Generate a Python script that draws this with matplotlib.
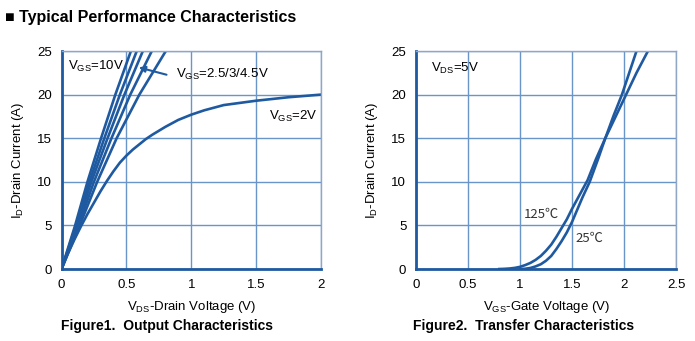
import numpy as np
import matplotlib
matplotlib.use("Agg")
import matplotlib.pyplot as plt

plt.rcParams['font.family'] = ['Liberation Sans', 'DejaVu Sans', 'Noto Sans CJK SC']
plt.rcParams['mathtext.fontset'] = 'custom'
plt.rcParams['mathtext.rm'] = 'Liberation Sans'

# Figure 1: output characteristics, V_DS (V) for given I_D (A)
id_steps = [0, 5, 10, 15, 20, 25]
vds_10v = [0, 0.105, 0.200, 0.305, 0.415, 0.535]
vds_45v = [0, 0.112, 0.215, 0.330, 0.450, 0.580]
vds_3v = [0, 0.120, 0.230, 0.355, 0.485, 0.627]
vds_25v_a = [0, 0.130, 0.250, 0.385, 0.530, 0.696]
vds_25v_b = [0, 0.140, 0.275, 0.425, 0.600, 0.804]

vds_2v = [0, 0.05, 0.1, 0.15, 0.2, 0.25, 0.3, 0.35, 0.4, 0.45, 0.5, 0.55, 0.6, 0.65, 0.7,
          0.8, 0.9, 1.0, 1.1, 1.25, 1.5, 1.75, 2.0]
id_2v = [0, 1.8, 3.4, 4.9, 6.3, 7.6, 8.9, 10.1, 11.2, 12.2, 13.0, 13.7, 14.3, 14.9, 15.4,
         16.3, 17.1, 17.7, 18.2, 18.8, 19.3, 19.7, 20.0]

# Figure 2: transfer characteristics
vgs_25c = [1.0, 1.05, 1.1, 1.15, 1.2, 1.25, 1.3, 1.35, 1.4, 1.45, 1.5, 1.55, 1.6, 1.67,
           1.75, 1.82, 1.9, 1.98, 2.05, 2.12]
id_25c = [0, 0.03, 0.12, 0.3, 0.55, 0.95, 1.5, 2.3, 3.2, 4.2, 5.4, 6.8, 8.2, 10.0,
          12.6, 15.0, 17.6, 20.0, 22.5, 25.0]
vgs_125c = [0.8, 0.85, 0.9, 0.95, 1.0, 1.05, 1.1, 1.15, 1.2, 1.25, 1.3, 1.35, 1.4, 1.45,
            1.5, 1.55, 1.6, 1.65, 1.73, 1.82, 1.92, 2.02, 2.12, 2.23]
id_125c = [0, 0.02, 0.06, 0.13, 0.25, 0.45, 0.7, 1.05, 1.5, 2.1, 2.8, 3.7, 4.7, 5.7,
           6.9, 8.0, 9.1, 10.2, 12.6, 15.0, 17.5, 20.0, 22.5, 25.0]

line_c = '#1f5aa0'
grid_c = '#6a95c8'

fig = plt.figure(figsize=(6.95, 3.41), dpi=100)
fig.text(0.007, 0.95, '\u25a0 Typical Performance Characteristics', fontsize=11.5,
         fontweight='bold', va='center', ha='left')

ax1 = fig.add_axes([0.0885, 0.2111, 0.3734, 0.6393])
ax2 = fig.add_axes([0.5986, 0.2111, 0.3741, 0.6393])


def style(ax, xmax, xticks, xlabels):
    ax.set_xlim(0, xmax)
    ax.set_ylim(0, 25)
    ax.set_xticks(xticks)
    ax.set_xticklabels(xlabels)
    ax.set_yticks([0, 5, 10, 15, 20, 25])
    ax.grid(True, color=grid_c, lw=1.0)
    ax.tick_params(length=0, labelsize=9.5, pad=7)
    for s in ['left', 'bottom']:
        ax.spines[s].set_color(line_c)
        ax.spines[s].set_linewidth(2)
    for s in ['top', 'right']:
        ax.spines[s].set_color('#8fa7c4')
        ax.spines[s].set_linewidth(1)
    ax.set_axisbelow(True)


style(ax1, 2, [0, 0.5, 1, 1.5, 2], ['0', '0.5', '1', '1.5', '2'])
style(ax2, 2.5, [0, 0.5, 1, 1.5, 2, 2.5], ['0', '0.5', '1', '1.5', '2', '2.5'])

for v in [vds_10v, vds_45v, vds_3v, vds_25v_a, vds_25v_b]:
    ax1.plot(v, id_steps, color=line_c, lw=1.9)
ax1.plot(vds_2v, id_2v, color=line_c, lw=1.9)

ax1.text(0.05, 23.2, r'V$_\mathregular{GS}$=10V', fontsize=9.5, va='center')
ax1.text(0.88, 22.3, r'V$_\mathregular{GS}$=2.5/3/4.5V', fontsize=9.5, va='center')
ax1.text(1.6, 17.5, r'V$_\mathregular{GS}$=2V', fontsize=9.5, va='center')
ax1.annotate('', xy=(0.575, 23.2), xytext=(0.83, 22.2),
             arrowprops=dict(arrowstyle='-|>', color=line_c, lw=1.5, mutation_scale=9))

ax2.plot(vgs_125c, id_125c, color=line_c, lw=1.9)
ax2.plot(vgs_25c, id_25c, color=line_c, lw=1.9)
ax2.text(0.14, 23.0, r'V$_\mathregular{DS}$=5V', fontsize=9.5, va='center')
ax2.text(1.04, 6.3, '125\u2103', fontsize=9.5, va='center',
         family=['Noto Sans CJK SC', 'DejaVu Sans'], color='#333333')
ax2.text(1.53, 3.5, '25\u2103', fontsize=9.5, va='center',
         family=['Noto Sans CJK SC', 'DejaVu Sans'], color='#333333')

ax1.set_xlabel(r'V$_\mathregular{DS}$-Drain Voltage (V)', fontsize=9.5, labelpad=6)
ax2.set_xlabel(r'V$_\mathregular{GS}$-Gate Voltage (V)', fontsize=9.5, labelpad=6)
ax1.set_ylabel(r'I$_\mathregular{D}$-Drain Current (A)', fontsize=9.5, labelpad=8)
ax2.set_ylabel(r'I$_\mathregular{D}$-Drain Current (A)', fontsize=9.5, labelpad=8)

cap_font = ['Liberation Sans Narrow', 'Liberation Sans']
fig.text(0.241, 0.045, 'Figure1.  Output Characteristics', fontsize=10, fontweight='bold',
         ha='center', va='center', family=cap_font)
fig.text(0.754, 0.045, 'Figure2.  Transfer Characteristics', fontsize=10, fontweight='bold',
         ha='center', va='center', family=cap_font)

fig.savefig('out.png', dpi=100)
